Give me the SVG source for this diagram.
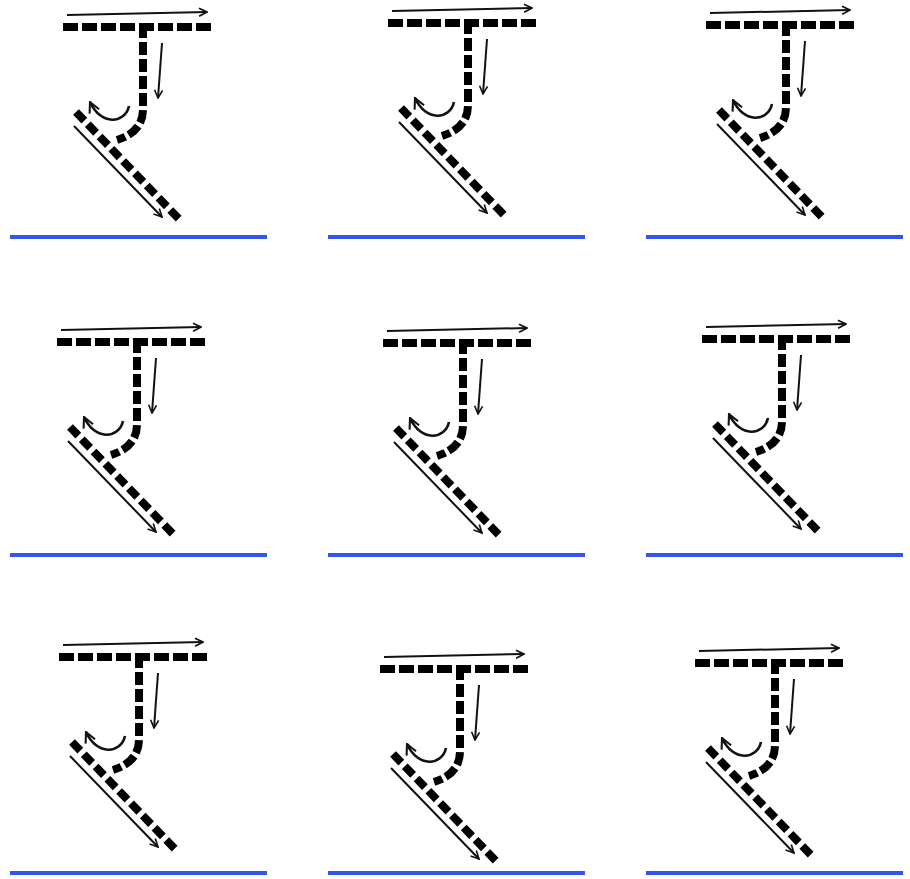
<svg xmlns="http://www.w3.org/2000/svg" width="910" height="879" viewBox="0 0 910 879">
<style>
.bg{fill:#fff}
.hd{fill:none;stroke:#000;stroke-width:8;stroke-dasharray:15 4}
.vd{fill:none;stroke:#000;stroke-width:8;stroke-dasharray:13 4}
.dd{fill:none;stroke:#000;stroke-width:8;stroke-dasharray:12 5}
.ar{fill:none;stroke:#111;stroke-width:2;marker-end:url(#ah)}
.arc{fill:none;stroke:#111;stroke-width:2.6;marker-end:url(#ah)}
.base{stroke:#3355ee;stroke-width:4}
</style>
<defs>
<marker id="ah" viewBox="0 0 10 10" refX="9" refY="5" markerWidth="5" markerHeight="5" orient="auto" markerUnits="strokeWidth">
<path d="M1,1 L9,5 L1,9" fill="none" stroke="#111" stroke-width="1.6"/>
</marker>
<g id="glyph">
<line class="ar" x1="4" y1="-12" x2="144" y2="-15"/>
<line class="hd" x1="0" y1="0" x2="149" y2="0"/>
<path class="vd" d="M80,-2 V82 Q80,105 54,113"/>
<line class="ar" x1="99" y1="16" x2="95" y2="71"/>
<path class="arc" d="M66,79 C62,97 38,99 27,75"/>
<line class="dd" x1="13" y1="85" x2="116" y2="192"/>
<line class="ar" x1="11" y1="99" x2="99" y2="190"/>
</g>
</defs>
<rect class="bg" x="0" y="0" width="910" height="879"/>
<g id="connectors">
<line class="base" x1="10" y1="237" x2="267" y2="237"/>
<line class="base" x1="328" y1="237" x2="585" y2="237"/>
<line class="base" x1="646" y1="237" x2="903" y2="237"/>
<line class="base" x1="10" y1="555" x2="267" y2="555"/>
<line class="base" x1="328" y1="555" x2="585" y2="555"/>
<line class="base" x1="646" y1="555" x2="903" y2="555"/>
<line class="base" x1="10" y1="873" x2="267" y2="873"/>
<line class="base" x1="328" y1="873" x2="585" y2="873"/>
<line class="base" x1="646" y1="873" x2="903" y2="873"/>
</g>
<g id="cell1"><use href="#glyph" x="63" y="27"/></g>
<g id="cell2"><use href="#glyph" x="388" y="23"/></g>
<g id="cell3"><use href="#glyph" x="706" y="25"/></g>
<g id="cell4"><use href="#glyph" x="57" y="342"/></g>
<g id="cell5"><use href="#glyph" x="383" y="343"/></g>
<g id="cell6"><use href="#glyph" x="702" y="339"/></g>
<g id="cell7"><use href="#glyph" x="59" y="657"/></g>
<g id="cell8"><use href="#glyph" x="380" y="669"/></g>
<g id="cell9"><use href="#glyph" x="695" y="663"/></g>
</svg>
